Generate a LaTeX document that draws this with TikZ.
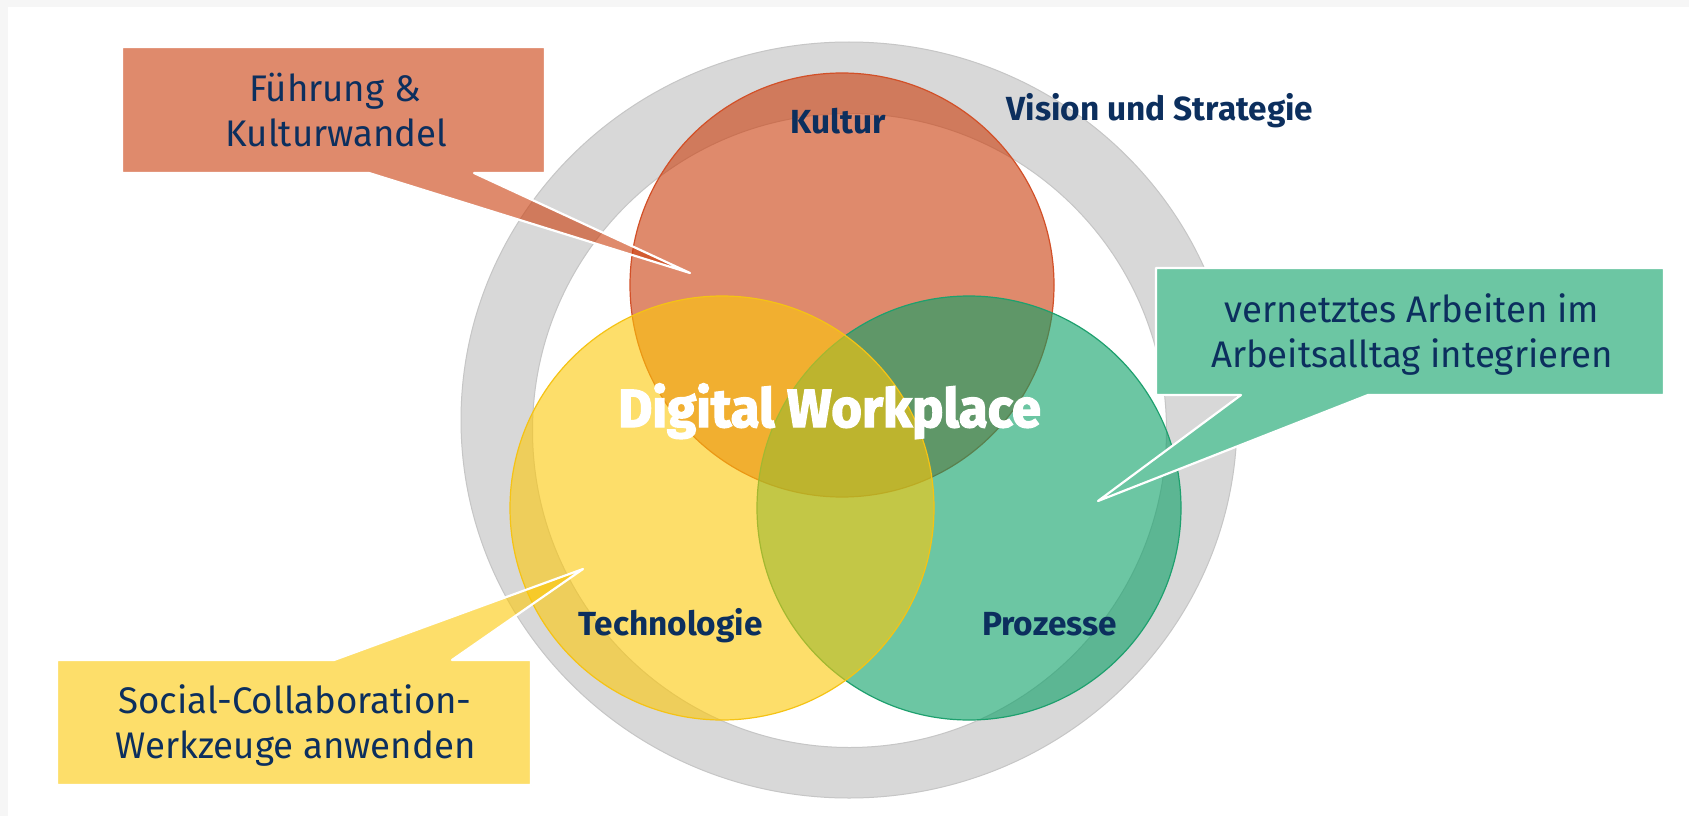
\documentclass[tikz,border=0pt]{standalone}
\usepackage{fontspec}
\setmainfont{Fira Sans}
\newfontfamily\calfont[FakeStretch=0.99]{Fira Sans}
\newfontfamily\lblfont[FakeStretch=1.0]{Fira Sans}
\newfontfamily\bigfont[FakeStretch=0.98,FakeBold=2.5]{Fira Sans}
\definecolor{navy}{RGB}{12,47,94}
\definecolor{framegrey}{RGB}{246,246,246}
\definecolor{ringgrey}{RGB}{216,216,216}
\definecolor{ringedge}{RGB}{198,198,198}
\definecolor{orC}{RGB}{203,60,10}
\definecolor{orB}{RGB}{210,80,40}
\definecolor{yeC}{RGB}{253,200,8}
\definecolor{yeB}{RGB}{245,195,20}
\definecolor{grC}{RGB}{10,160,102}
\definecolor{grB}{RGB}{30,160,110}
\definecolor{grBox}{RGB}{108,198,163}
\begin{document}
\begin{tikzpicture}[x=1pt,y=-1pt,
  txt/.style={text=navy, inner sep=0pt, anchor=base},
  calltext/.style={txt, font=\calfont\fontsize{37}{44}\selectfont},
  lbl/.style={txt, font=\lblfont\bfseries\fontsize{33.4}{40}\selectfont},
  circ/.style={fill opacity=0.6, line width=1.2pt},
  callout/.style={draw=white, line width=2.2pt, line join=round},
]
\useasboundingbox (0,0) rectangle (1689,816);
\fill[framegrey] (0,0) rectangle (1689,816);
\fill[white] (7.5,7) rectangle (1689,816);
% ring: Vision und Strategie
\path[fill=ringgrey, even odd rule, draw=ringedge, line width=1pt]
  (849,420) ellipse [x radius=388pt, y radius=378pt]
  (849.5,430.5) circle [radius=317pt];
% circles
\path[circ, fill=orC, draw=orB] (842,285) circle [radius=212pt];
\path[circ, fill=grC, draw=grB] (969,508) circle [radius=212pt];
\path[circ, fill=yeC, draw=yeB] (722,508) circle [radius=212pt];
% labels
\node[lbl] (kultur) at (838.5,133) {Kultur};
\node[lbl] (vision) at (1160,120) {Vision und Strategie};
\node[lbl] (techno) at (670.5,635) {Technologie};
\node[lbl] (prozesse) at (1049.5,635) {Prozesse};
\node[txt, text=white, font=\bigfont\bfseries\fontsize{53.7}{60}\selectfont] (dw) at (829.5,427) {Digital Workplace};
% callouts
\path[callout, fill=orC, fill opacity=0.6]
  (122,47) -- (545,47) -- (545,173) -- (474,173) -- (690,273) -- (369,173) -- (122,173) -- cycle;
\path[callout, fill=yeC, fill opacity=0.6]
  (57,660) -- (334,660) -- (583,569) -- (452,660) -- (531,660) -- (531,785) -- (57,785) -- cycle;
\path[callout, fill=grBox]
  (1156,268) -- (1664,268) -- (1664,395) -- (1368,395) -- (1098,501) -- (1241,395) -- (1156,395) -- cycle;
% callout texts
\node[calltext] (f1) at (335,101.7) {Führung \&};
\node[calltext] (f2) at (336.5,146) {Kulturwandel};
\node[calltext] (v1) at (1412,322.7) {vernetztes Arbeiten im};
\node[calltext] (v2) at (1412,367.3) {Arbeitsalltag integrieren};
\node[calltext] (s1) at (295,713) {Social-Collaboration-};
\node[calltext] (s2) at (295.5,758) {Werkzeuge anwenden};
\end{tikzpicture}
\end{document}
